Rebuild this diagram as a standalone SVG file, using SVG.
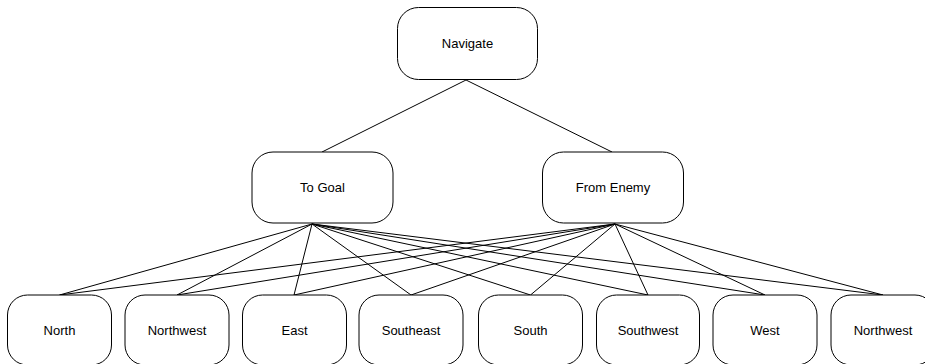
<svg xmlns="http://www.w3.org/2000/svg" width="925" height="364" viewBox="0 0 925 364">
<style>
.box{fill:#fff;stroke:#000;stroke-width:1}
.lbl{font-family:"Liberation Sans",Arial,sans-serif;font-size:13px;fill:#000;text-anchor:middle}
.edge{stroke:#000;stroke-width:1;fill:none}
</style>
<rect width="925" height="364" fill="#fff"/>
<g id="connectors">
<line class="edge" x1="466" y1="80" x2="322" y2="152"/>
<line class="edge" x1="466" y1="80" x2="612" y2="152"/>
<line class="edge" x1="312" y1="224" x2="59.5" y2="295"/>
<line class="edge" x1="312" y1="224" x2="177" y2="295"/>
<line class="edge" x1="312" y1="224" x2="294" y2="295"/>
<line class="edge" x1="312" y1="224" x2="411" y2="295"/>
<line class="edge" x1="312" y1="224" x2="530.5" y2="295"/>
<line class="edge" x1="312" y1="224" x2="648" y2="295"/>
<line class="edge" x1="312" y1="224" x2="765" y2="295"/>
<line class="edge" x1="312" y1="224" x2="883" y2="295"/>
<line class="edge" x1="615" y1="224" x2="59.5" y2="295"/>
<line class="edge" x1="615" y1="224" x2="177" y2="295"/>
<line class="edge" x1="615" y1="224" x2="294" y2="295"/>
<line class="edge" x1="615" y1="224" x2="411" y2="295"/>
<line class="edge" x1="615" y1="224" x2="530.5" y2="295"/>
<line class="edge" x1="615" y1="224" x2="648" y2="295"/>
<line class="edge" x1="615" y1="224" x2="765" y2="295"/>
<line class="edge" x1="615" y1="224" x2="883" y2="295"/>
</g>
<g id="navigate"><rect class="box" x="397.5" y="7.5" width="140" height="72" rx="21"/><text class="lbl" x="467.5" y="48">Navigate</text></g>
<g id="to-goal"><rect class="box" x="252" y="152" width="141" height="71" rx="21"/><text class="lbl" x="322.5" y="192">To Goal</text></g>
<g id="from-enemy"><rect class="box" x="542.5" y="152" width="141" height="71" rx="21"/><text class="lbl" x="613" y="192">From Enemy</text></g>
<g id="north"><rect class="box" x="7.5" y="295" width="104" height="70" rx="20"/><text class="lbl" x="59.5" y="335">North</text></g>
<g id="northwest1"><rect class="box" x="125" y="295" width="104" height="70" rx="20"/><text class="lbl" x="177" y="335">Northwest</text></g>
<g id="east"><rect class="box" x="242.5" y="295" width="104" height="70" rx="20"/><text class="lbl" x="294.5" y="335">East</text></g>
<g id="southeast"><rect class="box" x="359" y="295" width="104" height="70" rx="20"/><text class="lbl" x="411" y="335">Southeast</text></g>
<g id="south"><rect class="box" x="478.5" y="295" width="104" height="70" rx="20"/><text class="lbl" x="530.5" y="335">South</text></g>
<g id="southwest"><rect class="box" x="596.5" y="295" width="103" height="70" rx="20"/><text class="lbl" x="648" y="335">Southwest</text></g>
<g id="west"><rect class="box" x="713" y="295" width="104" height="70" rx="20"/><text class="lbl" x="765" y="335">West</text></g>
<g id="northwest2"><rect class="box" x="831" y="295" width="104" height="70" rx="20"/><text class="lbl" x="883" y="335">Northwest</text></g>
</svg>
